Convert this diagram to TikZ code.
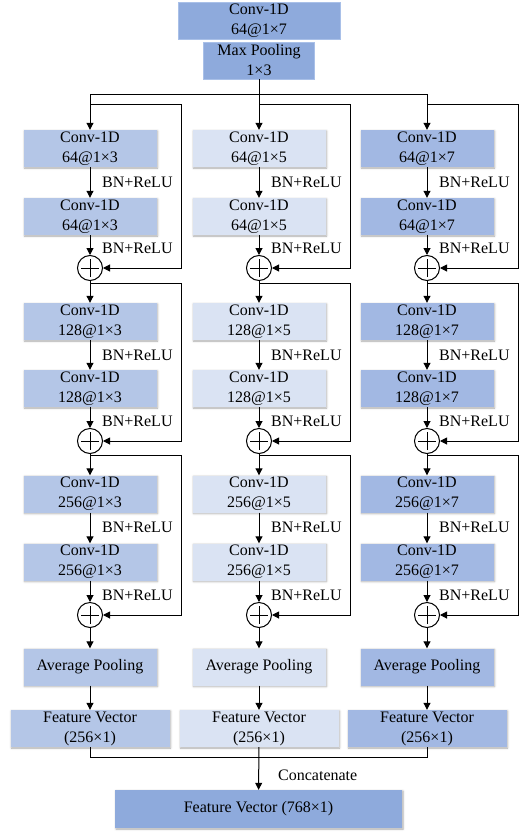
\documentclass[tikz,border=0pt]{standalone}
\usepackage{fontspec}
\setmainfont{Liberation Serif}
\usetikzlibrary{arrows.meta,shadows.blur,calc}
\definecolor{cTop}{HTML}{8EAADC}
\definecolor{cTopB}{HTML}{A9C0E8}
\definecolor{cL}{HTML}{B4C6E7}
\definecolor{cM}{HTML}{DAE3F3}
\definecolor{cR}{HTML}{A2B8E3}
\tikzset{
  box/.style={rectangle, minimum width=133pt, minimum height=37pt, inner sep=0pt,
    align=center, font=\fontsize{16}{20}\selectfont,
    blur shadow={shadow xshift=1pt, shadow yshift=-1pt, shadow blur radius=2pt, shadow opacity=35}},
  fvbox/.style={box, minimum width=159pt},
  topbox/.style={box, fill=cTop, draw=cTopB, line width=0.8pt, blur shadow={shadow opacity=0}},
  arr/.style={-{Triangle[length=7pt,width=7pt]}, line width=1pt},
  wire/.style={line width=1pt},
  lab/.style={anchor=west, inner sep=0pt, font=\fontsize{16}{20}\selectfont},
  adder/.style={circle, draw, line width=1pt, minimum size=25pt, inner sep=0pt, fill=white,
    path picture={\draw[line width=1pt]
      ([xshift=-9pt]path picture bounding box.center) -- ([xshift=9pt]path picture bounding box.center)
      ([yshift=-9pt]path picture bounding box.center) -- ([yshift=9pt]path picture bounding box.center);}}
}
\begin{document}
\begin{tikzpicture}[x=1pt,y=-1pt]
\useasboundingbox (0,0) rectangle (520,838);

\node[topbox, minimum width=162pt] (conv0) at (259,20.5) {Conv-1D\\64@1×7};
\node[topbox, minimum width=111pt] (maxp) at (259,60.5) {Max Pooling\\1×3};

\coordinate (dL) at (90,94);
\coordinate (dR) at (427,94);
\draw[wire] (dL) -- (dR);

\foreach \cn/\cx/\col/\k in {L/90/cL/3, M/259/cM/5, R/427/cR/7}{
  \node[box, fill=\col] (\cn1) at (\cx,148.5) {Conv-1D\\64@1×\k};
  \node[box, fill=\col] (\cn2) at (\cx,216.5) {Conv-1D\\64@1×\k};
  \node[adder] (\cn a1) at (\cx,268) {};
  \node[box, fill=\col] (\cn3) at (\cx,321.5) {Conv-1D\\128@1×\k};
  \node[box, fill=\col] (\cn4) at (\cx,388.5) {Conv-1D\\128@1×\k};
  \node[adder] (\cn a2) at (\cx,441) {};
  \node[box, fill=\col] (\cn5) at (\cx,494) {Conv-1D\\256@1×\k};
  \node[box, fill=\col] (\cn6) at (\cx,562) {Conv-1D\\256@1×\k};
  \node[adder] (\cn a3) at (\cx,615) {};
  \node[box, fill=\col] (\cn avg) at (\cx,667) {Average Pooling};
  \node[fvbox, fill=\col] (\cn fv) at (\cx,728.5) {Feature Vector\\(256×1)};

  \draw[arr] (\cn1) -- (\cn2);
  \draw[arr] (\cn2) -- (\cn a1);
  \draw[arr] (\cn a1) -- (\cn3);
  \draw[arr] (\cn3) -- (\cn4);
  \draw[arr] (\cn4) -- (\cn a2);
  \draw[arr] (\cn a2) -- (\cn5);
  \draw[arr] (\cn5) -- (\cn6);
  \draw[arr] (\cn6) -- (\cn a3);
  \draw[arr] (\cn a3) -- (\cn avg);
  \draw[arr] (\cn avg) -- (\cn fv);

  \node[lab] at ({\cx+12},182) {BN+ReLU};
  \node[lab] at ({\cx+12},248) {BN+ReLU};
  \node[lab] at ({\cx+12},355) {BN+ReLU};
  \node[lab] at ({\cx+12},421) {BN+ReLU};
  \node[lab] at ({\cx+12},527) {BN+ReLU};
  \node[lab] at ({\cx+12},595) {BN+ReLU};

  \coordinate (\cn s1) at (\cx,104);
  \coordinate (\cn k1) at ({\cx+91},104);
  \coordinate (\cn s2) at (\cx,283);
  \coordinate (\cn k2) at ({\cx+91},283);
  \coordinate (\cn s3) at (\cx,455);
  \coordinate (\cn k3) at ({\cx+91},455);
  \draw[arr] (\cn s1) -- (\cn k1) |- (\cn a1.east);
  \draw[arr] (\cn s2) -- (\cn k2) |- (\cn a2.east);
  \draw[arr] (\cn s3) -- (\cn k3) |- (\cn a3.east);
}

\draw[arr] (maxp) -- (M1);
\draw[arr] (dL) -- (L1);
\draw[arr] (dR) -- (R1);

\node[box, fill=cTop, minimum width=287pt, minimum height=38pt] (final) at (258.5,809) {Feature Vector (768×1)};
\coordinate (jL) at (90,757);
\coordinate (jR) at (427,757);
\draw[wire] (Lfv) -- (jL) -- (jR) -- (Rfv);
\draw[arr] (Mfv) -- (final);
\node[lab] at (278,775) {Concatenate};
\end{tikzpicture}
\end{document}
